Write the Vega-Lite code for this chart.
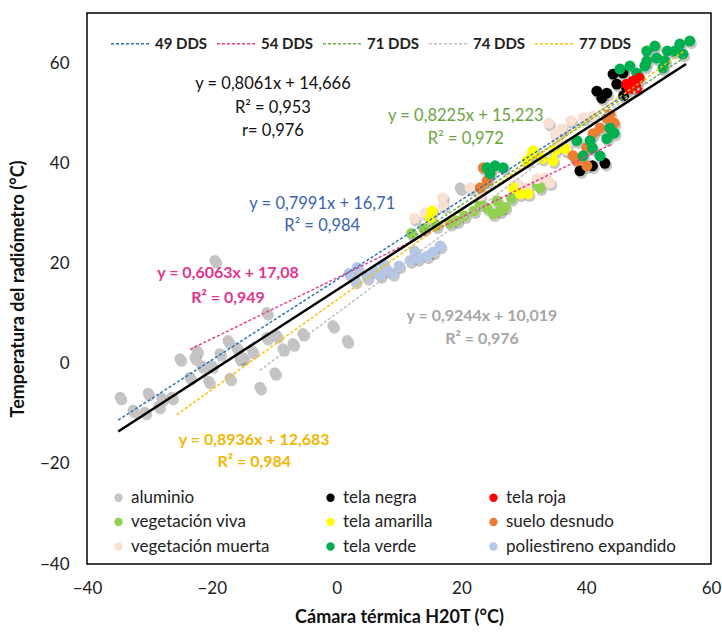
{
  "$schema": "https://vega.github.io/schema/vega-lite/v6.json",
  "autosize": "none",
  "padding": {"left": 87, "top": 13, "right": 11, "bottom": 69},
  "width": 624,
  "height": 551,
  "background": "white",
  "config": {
    "view": {"stroke": "#000", "strokeWidth": 1.5},
    "font": "Lato",
    "axis": {"domain": false, "ticks": false, "grid": false, "labelFlush": false, "labelFont": "Lato", "labelFontSize": 17, "labelColor": "#222", "titleFont": "Lato", "titleFontSize": 18, "titleFontWeight": "bold", "titleColor": "#111"},
    "legend": {"labelFont": "Lato", "labelLimit": 300}
  },
  "datasets": {
    "puntos": [
      {"m": "aluminio", "x": -34.7, "y": -6.7}, {"m": "aluminio", "x": -32.6, "y": -9.3}, {"m": "aluminio", "x": -30.7, "y": -9.7}, {"m": "aluminio", "x": -30.2, "y": -5.9}, {"m": "aluminio", "x": -28.0, "y": -6.9}, {"m": "aluminio", "x": -26.4, "y": -6.7}, {"m": "aluminio", "x": -28.5, "y": -8.5}, {"m": "aluminio", "x": -25.1, "y": 1.0}, {"m": "aluminio", "x": -22.7, "y": 1.2}, {"m": "aluminio", "x": -22.4, "y": 2.6}, {"m": "aluminio", "x": -23.5, "y": -2.7}, {"m": "aluminio", "x": -21.6, "y": -0.4}, {"m": "aluminio", "x": -20.0, "y": -0.4}, {"m": "aluminio", "x": -20.5, "y": -3.5}, {"m": "aluminio", "x": -18.7, "y": 2.0}, {"m": "aluminio", "x": -19.5, "y": 20.6}, {"m": "aluminio", "x": -17.4, "y": 4.6}, {"m": "aluminio", "x": -17.1, "y": -2.9}, {"m": "aluminio", "x": -15.5, "y": 1.0}, {"m": "aluminio", "x": -16.0, "y": 3.2}, {"m": "aluminio", "x": -15.0, "y": 1.2}, {"m": "aluminio", "x": -13.5, "y": 2.5}, {"m": "aluminio", "x": -11.2, "y": 10.2}, {"m": "aluminio", "x": -11.2, "y": 5.2}, {"m": "aluminio", "x": -9.6, "y": 5.6}, {"m": "aluminio", "x": -8.6, "y": 3.0}, {"m": "aluminio", "x": -9.9, "y": -1.8}, {"m": "aluminio", "x": -12.3, "y": -4.7}, {"m": "aluminio", "x": -7.0, "y": 4.0}, {"m": "aluminio", "x": -5.4, "y": 6.0}, {"m": "aluminio", "x": -0.6, "y": 7.6}, {"m": "aluminio", "x": 1.7, "y": 4.6}, {"m": "aluminio", "x": 19.8, "y": 35.1}, {"m": "aluminio", "x": 22.5, "y": 34.5},
      {"m": "poliestireno expandido", "x": 2.0, "y": 18.0}, {"m": "poliestireno expandido", "x": 3.3, "y": 19.2}, {"m": "poliestireno expandido", "x": 4.9, "y": 17.2}, {"m": "poliestireno expandido", "x": 6.0, "y": 18.5}, {"m": "poliestireno expandido", "x": 7.0, "y": 17.6}, {"m": "poliestireno expandido", "x": 8.1, "y": 18.6}, {"m": "poliestireno expandido", "x": 9.0, "y": 18.0}, {"m": "poliestireno expandido", "x": 10.0, "y": 19.5}, {"m": "poliestireno expandido", "x": 11.8, "y": 20.6}, {"m": "poliestireno expandido", "x": 13.0, "y": 21.0}, {"m": "poliestireno expandido", "x": 14.5, "y": 21.5}, {"m": "poliestireno expandido", "x": 15.5, "y": 22.3}, {"m": "poliestireno expandido", "x": 16.6, "y": 23.5}, {"m": "poliestireno expandido", "x": 3.0, "y": 16.5}, {"m": "poliestireno expandido", "x": 7.5, "y": 19.8}, {"m": "poliestireno expandido", "x": 12.5, "y": 22.5},
      {"m": "vegetación viva", "x": 12.0, "y": 26.0}, {"m": "vegetación viva", "x": 14.0, "y": 27.0}, {"m": "vegetación viva", "x": 16.0, "y": 27.5}, {"m": "vegetación viva", "x": 18.2, "y": 28.0}, {"m": "vegetación viva", "x": 19.3, "y": 28.5}, {"m": "vegetación viva", "x": 20.5, "y": 29.5}, {"m": "vegetación viva", "x": 22.0, "y": 30.5}, {"m": "vegetación viva", "x": 23.0, "y": 31.9}, {"m": "vegetación viva", "x": 24.1, "y": 31.1}, {"m": "vegetación viva", "x": 25.1, "y": 29.9}, {"m": "vegetación viva", "x": 26.2, "y": 30.5}, {"m": "vegetación viva", "x": 25.7, "y": 32.5}, {"m": "vegetación viva", "x": 27.0, "y": 31.2}, {"m": "vegetación viva", "x": 28.0, "y": 33.0}, {"m": "vegetación viva", "x": 32.1, "y": 35.9}, {"m": "vegetación viva", "x": 32.6, "y": 35.1},
      {"m": "vegetación muerta", "x": 12.5, "y": 29.0}, {"m": "vegetación muerta", "x": 14.2, "y": 30.1}, {"m": "vegetación muerta", "x": 17.1, "y": 31.5}, {"m": "vegetación muerta", "x": 17.0, "y": 33.1}, {"m": "vegetación muerta", "x": 21.4, "y": 35.1}, {"m": "vegetación muerta", "x": 23.0, "y": 33.5}, {"m": "vegetación muerta", "x": 28.9, "y": 35.9}, {"m": "vegetación muerta", "x": 30.5, "y": 35.1}, {"m": "vegetación muerta", "x": 32.1, "y": 36.9}, {"m": "vegetación muerta", "x": 33.4, "y": 37.1}, {"m": "vegetación muerta", "x": 34.2, "y": 36.1}, {"m": "vegetación muerta", "x": 34.0, "y": 48.0}, {"m": "vegetación muerta", "x": 35.0, "y": 45.9}, {"m": "vegetación muerta", "x": 36.1, "y": 46.9}, {"m": "vegetación muerta", "x": 35.3, "y": 44.5}, {"m": "vegetación muerta", "x": 36.9, "y": 43.9}, {"m": "vegetación muerta", "x": 36.9, "y": 42.5}, {"m": "vegetación muerta", "x": 37.5, "y": 48.5}, {"m": "vegetación muerta", "x": 39.5, "y": 49.0}, {"m": "vegetación muerta", "x": 41.1, "y": 49.4},
      {"m": "tela amarilla", "x": 15.3, "y": 30.5}, {"m": "tela amarilla", "x": 15.0, "y": 29.1}, {"m": "tela amarilla", "x": 28.3, "y": 35.1}, {"m": "tela amarilla", "x": 29.4, "y": 33.9}, {"m": "tela amarilla", "x": 30.7, "y": 33.9}, {"m": "tela amarilla", "x": 30.5, "y": 40.5}, {"m": "tela amarilla", "x": 31.3, "y": 41.9}, {"m": "tela amarilla", "x": 31.5, "y": 42.5}, {"m": "tela amarilla", "x": 33.0, "y": 41.0}, {"m": "tela amarilla", "x": 34.7, "y": 40.5}, {"m": "tela amarilla", "x": 35.0, "y": 42.5}, {"m": "tela amarilla", "x": 36.6, "y": 42.9},
      {"m": "tela negra", "x": 39.0, "y": 38.5}, {"m": "tela negra", "x": 41.0, "y": 39.5}, {"m": "tela negra", "x": 43.0, "y": 40.0}, {"m": "tela negra", "x": 41.7, "y": 54.4}, {"m": "tela negra", "x": 42.5, "y": 53.0}, {"m": "tela negra", "x": 43.3, "y": 54.0}, {"m": "tela negra", "x": 44.9, "y": 55.8}, {"m": "tela negra", "x": 44.3, "y": 57.8}, {"m": "tela negra", "x": 45.9, "y": 58.0}, {"m": "tela negra", "x": 46.5, "y": 55.0}, {"m": "tela negra", "x": 46.0, "y": 53.5},
      {"m": "suelo desnudo", "x": 23.5, "y": 39.1}, {"m": "suelo desnudo", "x": 24.1, "y": 36.5}, {"m": "suelo desnudo", "x": 23.0, "y": 35.1}, {"m": "suelo desnudo", "x": 38.5, "y": 40.5}, {"m": "suelo desnudo", "x": 37.9, "y": 41.5}, {"m": "suelo desnudo", "x": 40.1, "y": 39.5}, {"m": "suelo desnudo", "x": 40.1, "y": 43.1}, {"m": "suelo desnudo", "x": 41.1, "y": 45.9}, {"m": "suelo desnudo", "x": 42.2, "y": 47.0}, {"m": "suelo desnudo", "x": 43.3, "y": 49.0}, {"m": "suelo desnudo", "x": 43.8, "y": 49.8}, {"m": "suelo desnudo", "x": 44.5, "y": 48.0},
      {"m": "tela verde", "x": 24.1, "y": 39.1}, {"m": "tela verde", "x": 25.4, "y": 39.5}, {"m": "tela verde", "x": 26.7, "y": 39.1}, {"m": "tela verde", "x": 24.6, "y": 37.9}, {"m": "tela verde", "x": 38.5, "y": 44.5}, {"m": "tela verde", "x": 40.6, "y": 44.5}, {"m": "tela verde", "x": 39.5, "y": 41.5}, {"m": "tela verde", "x": 41.0, "y": 43.0}, {"m": "tela verde", "x": 42.2, "y": 41.5}, {"m": "tela verde", "x": 43.3, "y": 44.9}, {"m": "tela verde", "x": 43.8, "y": 47.0}, {"m": "tela verde", "x": 44.5, "y": 46.0}, {"m": "tela verde", "x": 45.4, "y": 58.8}, {"m": "tela verde", "x": 47.0, "y": 59.4}, {"m": "tela verde", "x": 48.1, "y": 58.0}, {"m": "tela verde", "x": 49.4, "y": 59.4}, {"m": "tela verde", "x": 49.7, "y": 62.4}, {"m": "tela verde", "x": 49.7, "y": 60.4}, {"m": "tela verde", "x": 51.0, "y": 63.4}, {"m": "tela verde", "x": 51.3, "y": 61.0}, {"m": "tela verde", "x": 52.3, "y": 59.0}, {"m": "tela verde", "x": 52.6, "y": 60.4}, {"m": "tela verde", "x": 53.0, "y": 62.4}, {"m": "tela verde", "x": 54.2, "y": 62.4}, {"m": "tela verde", "x": 55.0, "y": 63.8}, {"m": "tela verde", "x": 55.5, "y": 61.8}, {"m": "tela verde", "x": 56.6, "y": 64.4},
      {"m": "tela roja", "x": 46.5, "y": 55.8}, {"m": "tela roja", "x": 47.5, "y": 56.4}, {"m": "tela roja", "x": 48.1, "y": 55.0}, {"m": "tela roja", "x": 47.0, "y": 54.8}, {"m": "tela roja", "x": 48.5, "y": 57.0}
    ],
    "lineas": [
      {"d": "49 DDS", "x": -35, "y": -11.26}, {"d": "49 DDS", "x": 46, "y": 53.47},
      {"d": "54 DDS", "x": -23.5, "y": 2.83}, {"d": "54 DDS", "x": 44, "y": 43.76},
      {"d": "71 DDS", "x": 12, "y": 25.09}, {"d": "71 DDS", "x": 56, "y": 61.28},
      {"d": "74 DDS", "x": -12.3, "y": -1.35}, {"d": "74 DDS", "x": 50, "y": 56.24},
      {"d": "77 DDS", "x": -25.6, "y": -10.19}, {"d": "77 DDS", "x": 55.8, "y": 62.55}
    ],
    "total": [
      {"x": -35, "y": -13.55}, {"x": 56, "y": 59.81}
    ],
    "textos": [
      {"s": "total", "x": -10.2, "y": 55.8, "t": "y = 0,8061x + 14,666"},
      {"s": "total", "x": -10.2, "y": 51.0, "t": "R² = 0,953"},
      {"s": "total", "x": -10.2, "y": 46.5, "t": "r= 0,976"},
      {"s": "71 DDS", "x": 20.7, "y": 49.4, "t": "y = 0,8225x + 15,223"},
      {"s": "71 DDS", "x": 20.7, "y": 44.9, "t": "R² = 0,972"},
      {"s": "49 DDS", "x": -2.3, "y": 31.9, "t": "y = 0,7991x + 16,71"},
      {"s": "49 DDS", "x": -2.3, "y": 27.5, "t": "R² = 0,984"},
      {"s": "54 DDS", "x": -17.4, "y": 18.0, "t": "y = 0,6063x + 17,08"},
      {"s": "54 DDS", "x": -17.4, "y": 13.2, "t": "R² = 0,949"},
      {"s": "74 DDS", "x": 23.3, "y": 9.6, "t": "y = 0,9244x + 10,019"},
      {"s": "74 DDS", "x": 23.3, "y": 5.0, "t": "R² = 0,976"},
      {"s": "77 DDS", "x": -13.2, "y": -15.3, "t": "y = 0,8936x + 12,683"},
      {"s": "77 DDS", "x": -13.2, "y": -19.7, "t": "R² = 0,984"}
    ]
  },
  "encoding": {
    "x": {"field": "x", "type": "quantitative", "scale": {"domain": [-40, 60], "nice": false, "zero": false}, "axis": {"values": [-40, -20, 0, 20, 40, 60], "labelPadding": 16, "title": "Cámara térmica H20T (°C)", "titlePadding": 12}},
    "y": {"field": "y", "type": "quantitative", "scale": {"domain": [-40, 70], "nice": false, "zero": false}, "axis": {"values": [-40, -20, 0, 20, 40, 60], "labelPadding": 18, "title": "Temperatura del radiómetro  (°C)", "titlePadding": 12}}
  },
  "layer": [
    {
      "data": {"name": "puntos"},
      "mark": {"type": "circle", "color": "#000", "opacity": 0.22, "size": 130, "xOffset": 1.5, "yOffset": 2.5}
    },
    {
      "data": {"name": "puntos"},
      "mark": {"type": "circle", "opacity": 1, "size": 120},
      "encoding": {
        "color": {"field": "m", "type": "nominal",
          "scale": {"domain": ["aluminio", "vegetación viva", "vegetación muerta", "tela negra", "tela amarilla", "tela verde", "tela roja", "suelo desnudo", "poliestireno expandido"],
                    "range": ["#c4c4c4", "#92d050", "#f8e0d2", "#000000", "#ffff00", "#00b050", "#ff0000", "#ed7d31", "#b4c7e7"]},
          "legend": {"orient": "none", "legendX": 23, "legendY": 476, "columns": 3, "title": null, "symbolType": "circle", "symbolSize": 70, "labelFontSize": 17, "labelOffset": 4, "labelLimit": 300, "rowPadding": 6.5, "columnPadding": 52, "gridAlign": "each", "labelColor": "#222", "symbolStrokeWidth": 0, "symbolOpacity": 1}}
      }
    },
    {
      "data": {"name": "lineas"},
      "mark": {"type": "line", "strokeDash": [3, 2], "strokeWidth": 1.5},
      "encoding": {
        "color": {"field": "d", "type": "nominal",
          "scale": {"domain": ["49 DDS", "54 DDS", "71 DDS", "74 DDS", "77 DDS"], "range": ["#2e75b6", "#e83e8c", "#70ad47", "#bfbfbf", "#ffc000"]},
          "legend": {"orient": "none", "legendX": 23, "legendY": 10, "direction": "horizontal", "title": null, "symbolType": "stroke", "symbolSize": 1521, "symbolStrokeWidth": 1.5, "symbolDash": [3, 2], "labelFontSize": 15, "labelFontWeight": "bold", "labelOffset": 4, "columnPadding": 6, "labelColor": "#222"}}
      }
    },
    {
      "data": {"name": "total"},
      "mark": {"type": "line", "color": "#000", "strokeWidth": 2.5},
      "encoding": {}
    },
    {
      "data": {"name": "textos"},
      "transform": [{"filter": {"field": "s", "oneOf": ["total", "71 DDS", "49 DDS"]}}],
      "mark": {"type": "text", "fontSize": 16.5, "font": "Lato", "align": "center", "baseline": "middle"},
      "encoding": {
        "text": {"field": "t"},
        "color": {"field": "s", "type": "nominal", "scale": {"domain": ["total", "71 DDS", "49 DDS"], "range": ["#111111", "#6aa43f", "#3b64ad"]}, "legend": null}
      }
    },
    {
      "data": {"name": "textos"},
      "transform": [{"filter": {"field": "s", "oneOf": ["54 DDS", "74 DDS", "77 DDS"]}}],
      "mark": {"type": "text", "fontSize": 16, "font": "Lato", "fontWeight": "bold", "align": "center", "baseline": "middle"},
      "encoding": {
        "text": {"field": "t"},
        "color": {"field": "s", "type": "nominal", "scale": {"domain": ["54 DDS", "74 DDS", "77 DDS"], "range": ["#e6338a", "#a6a6a6", "#f2b600"]}, "legend": null}
      }
    }
  ],
  "resolve": {"scale": {"color": "independent"}, "legend": {"color": "independent"}}
}
